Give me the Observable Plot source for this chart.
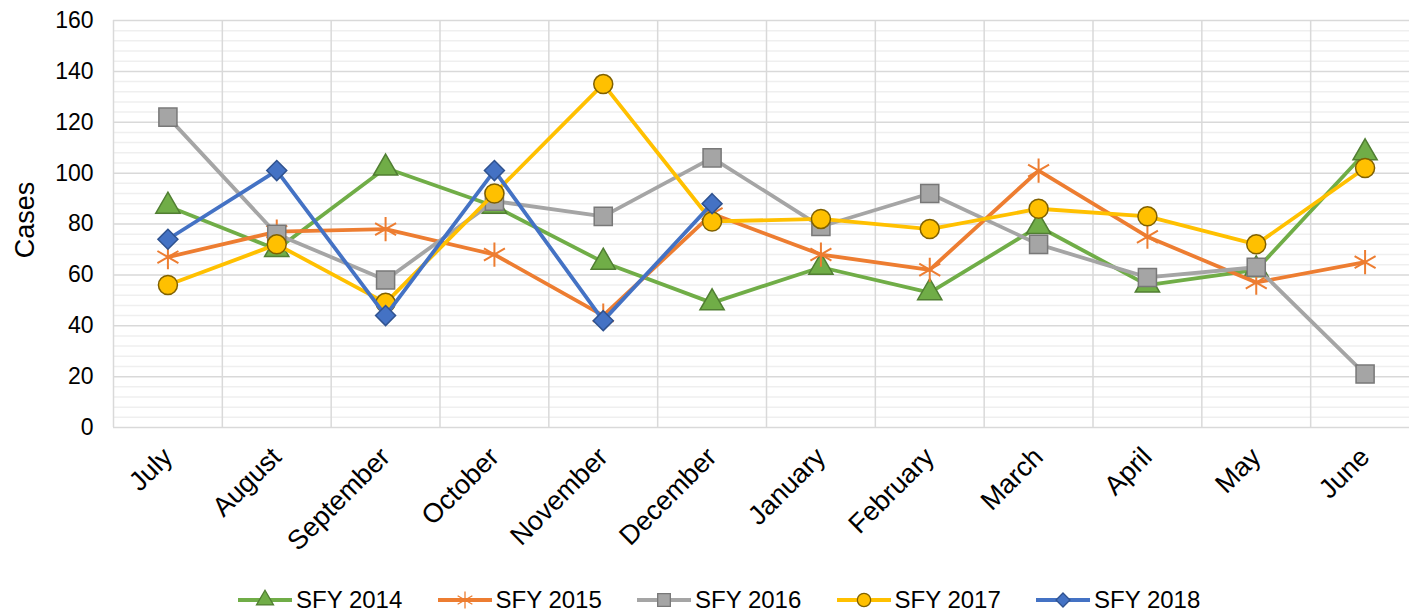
<!DOCTYPE html>
<html><head><meta charset="utf-8">
<script src="https://cdn.jsdelivr.net/npm/d3@7"></script>
<script src="https://cdn.jsdelivr.net/npm/@observablehq/plot@0.6"></script>
<style>
body{margin:0;background:#fff;font-family:"Liberation Sans",Arial,sans-serif;}
#legend{height:29px;position:relative;}
.item{position:absolute;top:0;height:29px;display:flex;align-items:center;font-size:24px;color:#000;white-space:nowrap;}
.item svg{margin-right:4px;}
</style>
</head><body>
<div id="chart"></div>
<div id="legend"></div>
<script>
const months = ["July","August","September","October","November","December","January","February","March","April","May","June"];
const seriesNames = ["SFY 2014","SFY 2015","SFY 2016","SFY 2017","SFY 2018"];
const sfy2014 = [87,70,102,87,65,49,63,53,79,56,62,108];
const sfy2015 = [67,77,78,68,44,84,68,62,101,75,57,65];
const sfy2016 = [122,76,58,89,83,106,79,92,72,59,63,21];
const sfy2017 = [56,72,49,92,135,81,82,78,86,83,72,102];
const sfy2018 = [74,101,44,101,42,88];
const yTicks = [0,20,40,60,80,100,120,140,160];

const seriesValues = [sfy2014,sfy2015,sfy2016,sfy2017,sfy2018];
const lineColors = ["#70AD47","#ED7D31","#A5A5A5","#FFC000","#4472C4"];
const markFill = ["#70AD47","none","#A5A5A5","#FFC000","#4472C4"];
const markStroke = ["#507E32","#ED7D31","#787878","#7F6000","#2F528F"];
const symbols = ["triangle","asterisk","square","circle","diamond2"];
const radii = [9,11.5,10.2,9.5,9];

const data = seriesNames.map((s,k)=>seriesValues[k].map((v,i)=>({series:s,k,i,month:months[i],value:v})));

const minor = d3.range(0,161,4).filter(v=>v%20!==0);
const marks = [
  Plot.ruleY(minor,{stroke:"#efefef",strokeWidth:1.5}),
  Plot.ruleY(yTicks,{stroke:"#d9d9d9",strokeWidth:1.5}),
  Plot.ruleX(d3.range(0,13),{stroke:"#d9d9d9",strokeWidth:1.5}),
];
data.forEach((rows,k)=>{
  marks.push(Plot.line(rows,{x:d=>d.i+0.5,y:"value",stroke:lineColors[k],strokeWidth:3.8}));
  marks.push(Plot.dot(rows,{x:d=>d.i+0.5,y:"value",symbol:()=>symbols[k],r:radii[k],fill:markFill[k],stroke:markStroke[k],strokeWidth:k===1?2:1.5}));
});
marks.push(
  Plot.axisY({ticks:yTicks,tickSize:0,tickPadding:20,fontSize:23,label:null,color:"#000"}),
  Plot.axisX({ticks:months.map((m,i)=>i+0.5),tickFormat:d=>months[Math.round(d-0.5)],tickRotate:-45,tickSize:0,tickPadding:25,fontSize:27,label:null,color:"#000"}),
  Plot.text(["Cases"],{frameAnchor:"left",textAnchor:"middle",dx:-88,dy:-4,rotate:-90,fontSize:27,fill:"#000"})
);

const chart = Plot.plot({
  width:1409,height:585,
  marginTop:20,marginBottom:158,marginLeft:113,marginRight:0,
  style:{fontFamily:"Liberation Sans, Arial, sans-serif",overflow:"hidden"},
  x:{type:"linear",domain:[0,12],range:[113,1419]},
  y:{domain:[0,160],range:[427,20]},
  symbol:{type:"identity"},
  marks
});
document.getElementById("chart").append(chart);

const legend = document.getElementById("legend");
seriesNames.forEach((s,k)=>{
  const item = document.createElement("div");
  item.className="item";
  item.style.left=(238+k*199.5)+"px";
  const ns="http://www.w3.org/2000/svg";
  const svg=document.createElementNS(ns,"svg");
  svg.setAttribute("width",54);svg.setAttribute("height",24);
  const ln=document.createElementNS(ns,"line");
  ln.setAttribute("x1",0);ln.setAttribute("x2",54);ln.setAttribute("y1",12);ln.setAttribute("y2",12);
  ln.setAttribute("stroke",lineColors[k]);ln.setAttribute("stroke-width",3.8);
  svg.append(ln);
  const symMap={triangle:d3.symbolTriangle,asterisk:d3.symbolAsterisk,square:d3.symbolSquare,circle:d3.symbolCircle,diamond2:d3.symbolDiamond2};
  const p=document.createElementNS(ns,"path");
  const r=radii[k]*0.7;
  p.setAttribute("d",d3.symbol(symMap[symbols[k]],Math.PI*r*r)());
  p.setAttribute("transform","translate(27,12)");
  p.setAttribute("fill",markFill[k]);p.setAttribute("stroke",markStroke[k]);p.setAttribute("stroke-width",1.3);
  svg.append(p);
  item.append(svg);
  const t=document.createElement("span");t.textContent=s;item.append(t);
  legend.append(item);
});
</script>
</body></html>
